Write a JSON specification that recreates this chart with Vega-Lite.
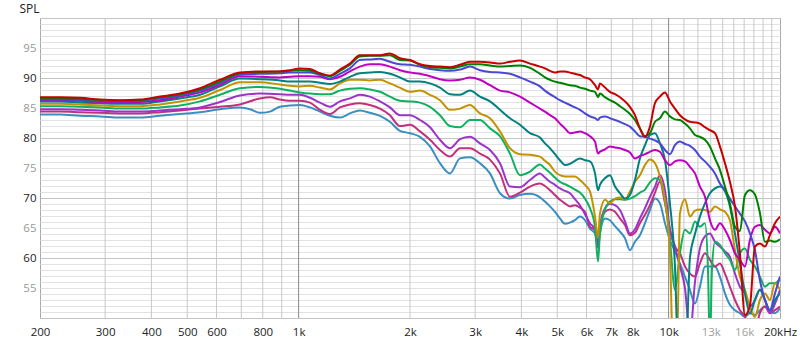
{
"$schema": "https://vega.github.io/schema/vega-lite/v6.json",
"width": 740, "height": 300,
"autosize": {"type": "none"},
"padding": {"left": 40, "top": 18, "right": 20, "bottom": 24},
"background": "white",
"config": {"view": {"stroke": "#a8a8a8", "strokeWidth": 1}, "font": "Open Sans"},
"datasets": {"gr": [{"f":300},{"f":400},{"f":500},{"f":600},{"f":700},{"f":800},{"f":900},{"f":1000},{"f":2000},{"f":3000},{"f":4000},{"f":5000},{"f":6000},{"f":7000},{"f":8000},{"f":9000},{"f":10000},{"f":11000},{"f":12000},{"f":13000},{"f":14000},{"f":15000},{"f":16000},{"f":17000},{"f":18000},{"f":19000}],
"d": [
{"s":"l","f":200,"v":83.9},{"s":"l","f":227,"v":83.9},{"s":"l","f":257,"v":83.7},{"s":"l","f":291,"v":83.6},{"s":"l","f":329,"v":83.4},{"s":"l","f":373,"v":83.4},{"s":"l","f":422,"v":83.7},{"s":"l","f":478,"v":84.0},{"s":"l","f":541,"v":84.3},{"s":"l","f":613,"v":84.8},{"s":"l","f":694,"v":85.1},{"s":"l","f":739,"v":84.8},{"s":"l","f":786,"v":84.2},{"s":"l","f":837,"v":84.4},{"s":"l","f":890,"v":85.2},{"s":"l","f":947,"v":85.4},{"s":"l","f":1008,"v":85.5},{"s":"l","f":1073,"v":85.1},{"s":"l","f":1142,"v":84.4},{"s":"l","f":1215,"v":83.7},{"s":"l","f":1293,"v":83.4},{"s":"l","f":1376,"v":84.1},{"s":"l","f":1464,"v":84.6},{"s":"l","f":1558,"v":84.2},{"s":"l","f":1659,"v":83.7},{"s":"l","f":1765,"v":82.7},{"s":"l","f":1878,"v":81.2},{"s":"l","f":2000,"v":80.8},{"s":"l","f":2128,"v":80.2},{"s":"l","f":2265,"v":78.6},{"s":"l","f":2410,"v":75.8},{"s":"l","f":2565,"v":74.1},{"s":"l","f":2730,"v":76.6},{"s":"l","f":2905,"v":76.8},{"s":"l","f":3091,"v":75.8},{"s":"l","f":3290,"v":74.1},{"s":"l","f":3501,"v":70.8},{"s":"l","f":3726,"v":69.9},{"s":"l","f":3965,"v":70.5},{"s":"l","f":4220,"v":70.7},{"s":"l","f":4490,"v":70.1},{"s":"l","f":4632,"v":69.4},{"s":"l","f":4779,"v":68.6},{"s":"l","f":4930,"v":67.7},{"s":"l","f":5085,"v":66.6},{"s":"l","f":5246,"v":65.7},{"s":"l","f":5412,"v":65.9},{"s":"l","f":5583,"v":66.3},{"s":"l","f":5759,"v":66.9},{"s":"l","f":5941,"v":66.3},{"s":"l","f":6129,"v":64.9},{"s":"l","f":6325,"v":64.1},{"s":"l","f":6444,"v":61.8},{"s":"l","f":6522,"v":64.1},{"s":"l","f":6731,"v":66.6},{"s":"l","f":6941,"v":66.3},{"s":"l","f":7163,"v":65.3},{"s":"l","f":7387,"v":64.4},{"s":"l","f":7622,"v":63.3},{"s":"l","f":7861,"v":61.3},{"s":"l","f":8111,"v":62.7},{"s":"l","f":8365,"v":63.8},{"s":"l","f":8632,"v":65.8},{"s":"l","f":8902,"v":68.0},{"s":"l","f":9186,"v":69.9},{"s":"l","f":9474,"v":69.1},{"s":"l","f":9776,"v":65.8},{"s":"l","f":10082,"v":63.0},{"s":"l","f":10403,"v":61.1},{"s":"l","f":10729,"v":59.1},{"s":"l","f":11071,"v":56.9},{"s":"l","f":11418,"v":54.7},{"s":"l","f":11782,"v":52.4},{"s":"l","f":12151,"v":55.2},{"s":"l","f":12538,"v":58.6},{"s":"l","f":12931,"v":58.6},{"s":"l","f":13343,"v":58.6},{"s":"l","f":13761,"v":56.9},{"s":"l","f":14199,"v":54.1},{"s":"l","f":14644,"v":52.2},{"s":"l","f":15111,"v":51.3},{"s":"l","f":15584,"v":50.8},{"s":"l","f":16082,"v":50.2},{"s":"l","f":16585,"v":50.8},{"s":"l","f":17114,"v":50.5},{"s":"l","f":17649,"v":51.3},{"s":"l","f":18213,"v":51.9},{"s":"l","f":18782,"v":51.1},{"s":"l","f":19385,"v":50.8},{"s":"l","f":20000,"v":51.6},
{"s":"k","f":200,"v":84.4},{"s":"k","f":227,"v":84.4},{"s":"k","f":257,"v":84.3},{"s":"k","f":291,"v":84.2},{"s":"k","f":329,"v":84.1},{"s":"k","f":373,"v":84.1},{"s":"k","f":422,"v":84.3},{"s":"k","f":478,"v":84.6},{"s":"k","f":541,"v":84.9},{"s":"k","f":613,"v":85.2},{"s":"k","f":694,"v":85.6},{"s":"k","f":786,"v":86.6},{"s":"k","f":837,"v":86.8},{"s":"k","f":890,"v":86.4},{"s":"k","f":947,"v":86.2},{"s":"k","f":1008,"v":86.2},{"s":"k","f":1073,"v":85.9},{"s":"k","f":1142,"v":84.7},{"s":"k","f":1215,"v":84.0},{"s":"k","f":1293,"v":85.1},{"s":"k","f":1376,"v":85.6},{"s":"k","f":1464,"v":85.8},{"s":"k","f":1558,"v":85.5},{"s":"k","f":1659,"v":84.9},{"s":"k","f":1765,"v":83.8},{"s":"k","f":1878,"v":82.0},{"s":"k","f":2000,"v":82.2},{"s":"k","f":2128,"v":81.1},{"s":"k","f":2265,"v":79.7},{"s":"k","f":2410,"v":78.0},{"s":"k","f":2565,"v":76.9},{"s":"k","f":2730,"v":78.3},{"s":"k","f":2905,"v":78.3},{"s":"k","f":3091,"v":77.4},{"s":"k","f":3290,"v":76.4},{"s":"k","f":3501,"v":74.1},{"s":"k","f":3726,"v":70.2},{"s":"k","f":3965,"v":70.9},{"s":"k","f":4220,"v":71.9},{"s":"k","f":4490,"v":72.4},{"s":"k","f":4632,"v":72.0},{"s":"k","f":4779,"v":71.3},{"s":"k","f":4930,"v":70.5},{"s":"k","f":5085,"v":69.7},{"s":"k","f":5246,"v":69.1},{"s":"k","f":5412,"v":68.6},{"s":"k","f":5583,"v":68.8},{"s":"k","f":5759,"v":68.4},{"s":"k","f":5941,"v":67.7},{"s":"k","f":6129,"v":65.2},{"s":"k","f":6325,"v":64.7},{"s":"k","f":6444,"v":62.2},{"s":"k","f":6522,"v":65.2},{"s":"k","f":6731,"v":67.7},{"s":"k","f":6941,"v":68.1},{"s":"k","f":7163,"v":67.7},{"s":"k","f":7387,"v":66.6},{"s":"k","f":7622,"v":65.5},{"s":"k","f":7861,"v":63.8},{"s":"k","f":8111,"v":64.2},{"s":"k","f":8365,"v":65.8},{"s":"k","f":8632,"v":67.2},{"s":"k","f":8902,"v":68.8},{"s":"k","f":9186,"v":70.9},{"s":"k","f":9474,"v":72.7},{"s":"k","f":9776,"v":69.1},{"s":"k","f":10082,"v":64.7},{"s":"k","f":10403,"v":61.9},{"s":"k","f":10729,"v":60.8},{"s":"k","f":11071,"v":58.6},{"s":"k","f":11418,"v":57.4},{"s":"k","f":11782,"v":56.9},{"s":"k","f":12151,"v":59.1},{"s":"k","f":12538,"v":60.8},{"s":"k","f":12931,"v":59.7},{"s":"k","f":13343,"v":58.6},{"s":"k","f":13761,"v":59.1},{"s":"k","f":14199,"v":57.4},{"s":"k","f":14644,"v":55.2},{"s":"k","f":15111,"v":53.0},{"s":"k","f":15584,"v":51.3},{"s":"k","f":16082,"v":50.2},{"s":"k","f":16585,"v":48.0},{"s":"k","f":17114,"v":48.0},{"s":"k","f":17649,"v":50.8},{"s":"k","f":18213,"v":51.9},{"s":"k","f":18782,"v":50.8},{"s":"k","f":19385,"v":51.3},{"s":"k","f":20000,"v":51.9},
{"s":"p","f":200,"v":84.8},{"s":"p","f":227,"v":84.8},{"s":"p","f":257,"v":84.7},{"s":"p","f":291,"v":84.6},{"s":"p","f":329,"v":84.4},{"s":"p","f":373,"v":84.4},{"s":"p","f":422,"v":84.6},{"s":"p","f":478,"v":84.8},{"s":"p","f":541,"v":85.1},{"s":"p","f":613,"v":86.0},{"s":"p","f":694,"v":87.1},{"s":"p","f":786,"v":87.4},{"s":"p","f":890,"v":87.3},{"s":"p","f":947,"v":87.2},{"s":"p","f":1008,"v":87.2},{"s":"p","f":1073,"v":86.7},{"s":"p","f":1142,"v":85.9},{"s":"p","f":1215,"v":85.2},{"s":"p","f":1293,"v":86.1},{"s":"p","f":1376,"v":86.6},{"s":"p","f":1464,"v":87.2},{"s":"p","f":1558,"v":86.9},{"s":"p","f":1659,"v":86.1},{"s":"p","f":1765,"v":85.1},{"s":"p","f":1878,"v":83.8},{"s":"p","f":2000,"v":83.8},{"s":"p","f":2128,"v":83.0},{"s":"p","f":2265,"v":81.8},{"s":"p","f":2410,"v":79.7},{"s":"p","f":2565,"v":78.3},{"s":"p","f":2730,"v":79.8},{"s":"p","f":2905,"v":80.2},{"s":"p","f":3091,"v":79.1},{"s":"p","f":3290,"v":78.0},{"s":"p","f":3501,"v":75.8},{"s":"p","f":3726,"v":71.9},{"s":"p","f":3965,"v":71.8},{"s":"p","f":4220,"v":73.0},{"s":"p","f":4490,"v":74.1},{"s":"p","f":4632,"v":73.4},{"s":"p","f":4779,"v":72.7},{"s":"p","f":4930,"v":72.2},{"s":"p","f":5085,"v":71.6},{"s":"p","f":5246,"v":71.2},{"s":"p","f":5412,"v":70.8},{"s":"p","f":5583,"v":69.8},{"s":"p","f":5759,"v":68.8},{"s":"p","f":5941,"v":67.3},{"s":"p","f":6129,"v":65.8},{"s":"p","f":6325,"v":64.7},{"s":"p","f":6444,"v":61.8},{"s":"p","f":6522,"v":65.2},{"s":"p","f":6731,"v":68.3},{"s":"p","f":6941,"v":69.0},{"s":"p","f":7163,"v":68.8},{"s":"p","f":7387,"v":68.0},{"s":"p","f":7622,"v":66.1},{"s":"p","f":7861,"v":64.1},{"s":"p","f":8111,"v":64.8},{"s":"p","f":8365,"v":66.6},{"s":"p","f":8632,"v":68.3},{"s":"p","f":8902,"v":70.2},{"s":"p","f":9186,"v":71.9},{"s":"p","f":9474,"v":73.8},{"s":"p","f":9776,"v":71.3},{"s":"p","f":10082,"v":64.7},{"s":"p","f":10403,"v":61.9},{"s":"p","f":10729,"v":58.6},{"s":"p","f":11071,"v":55.0},{"s":"p","f":11418,"v":47.0},{"s":"p","f":11782,"v":56.0},{"s":"p","f":12151,"v":61.6},{"s":"p","f":12538,"v":63.6},{"s":"p","f":12931,"v":64.1},{"s":"p","f":13343,"v":62.7},{"s":"p","f":13761,"v":61.9},{"s":"p","f":14199,"v":61.1},{"s":"p","f":14644,"v":60.2},{"s":"p","f":15111,"v":57.4},{"s":"p","f":15584,"v":55.2},{"s":"p","f":16082,"v":54.1},{"s":"p","f":16585,"v":51.9},{"s":"p","f":17114,"v":53.0},{"s":"p","f":17649,"v":54.7},{"s":"p","f":18213,"v":53.0},{"s":"p","f":18782,"v":50.8},{"s":"p","f":19385,"v":52.4},{"s":"p","f":20000,"v":54.7},
{"s":"e","f":200,"v":85.3},{"s":"e","f":227,"v":85.3},{"s":"e","f":257,"v":85.2},{"s":"e","f":291,"v":85.1},{"s":"e","f":329,"v":84.9},{"s":"e","f":373,"v":84.9},{"s":"e","f":422,"v":85.1},{"s":"e","f":478,"v":85.4},{"s":"e","f":541,"v":86.1},{"s":"e","f":613,"v":87.2},{"s":"e","f":694,"v":88.3},{"s":"e","f":786,"v":88.5},{"s":"e","f":890,"v":88.2},{"s":"e","f":947,"v":87.9},{"s":"e","f":1008,"v":87.6},{"s":"e","f":1073,"v":87.4},{"s":"e","f":1142,"v":87.3},{"s":"e","f":1215,"v":87.3},{"s":"e","f":1293,"v":87.9},{"s":"e","f":1376,"v":88.2},{"s":"e","f":1464,"v":88.3},{"s":"e","f":1558,"v":88.1},{"s":"e","f":1659,"v":87.7},{"s":"e","f":1765,"v":86.9},{"s":"e","f":1878,"v":86.2},{"s":"e","f":2000,"v":86.1},{"s":"e","f":2128,"v":85.9},{"s":"e","f":2265,"v":85.2},{"s":"e","f":2410,"v":83.8},{"s":"e","f":2565,"v":82.0},{"s":"e","f":2730,"v":81.8},{"s":"e","f":2905,"v":83.0},{"s":"e","f":3091,"v":83.0},{"s":"e","f":3290,"v":81.6},{"s":"e","f":3501,"v":80.3},{"s":"e","f":3726,"v":77.4},{"s":"e","f":3965,"v":73.8},{"s":"e","f":4220,"v":74.4},{"s":"e","f":4490,"v":75.6},{"s":"e","f":4632,"v":74.9},{"s":"e","f":4779,"v":74.2},{"s":"e","f":4930,"v":73.4},{"s":"e","f":5085,"v":72.7},{"s":"e","f":5246,"v":72.3},{"s":"e","f":5412,"v":71.9},{"s":"e","f":5583,"v":71.4},{"s":"e","f":5759,"v":70.9},{"s":"e","f":5941,"v":69.9},{"s":"e","f":6129,"v":68.3},{"s":"e","f":6325,"v":65.2},{"s":"e","f":6444,"v":59.4},{"s":"e","f":6522,"v":64.1},{"s":"e","f":6731,"v":68.1},{"s":"e","f":6941,"v":69.4},{"s":"e","f":7163,"v":69.8},{"s":"e","f":7387,"v":69.8},{"s":"e","f":7622,"v":69.7},{"s":"e","f":7861,"v":69.9},{"s":"e","f":8111,"v":70.3},{"s":"e","f":8365,"v":70.9},{"s":"e","f":8632,"v":71.4},{"s":"e","f":8902,"v":72.6},{"s":"e","f":9186,"v":73.3},{"s":"e","f":9474,"v":73.0},{"s":"e","f":9776,"v":69.7},{"s":"e","f":10082,"v":63.0},{"s":"e","f":10403,"v":54.7},{"s":"e","f":10729,"v":60.8},{"s":"e","f":11071,"v":64.7},{"s":"e","f":11418,"v":64.1},{"s":"e","f":11782,"v":66.1},{"s":"e","f":12151,"v":65.2},{"s":"e","f":12538,"v":65.8},{"s":"e","f":12776,"v":58.0},{"s":"e","f":12931,"v":45.0},{"s":"e","f":13094,"v":58.0},{"s":"e","f":13343,"v":62.7},{"s":"e","f":13761,"v":62.2},{"s":"e","f":14199,"v":60.8},{"s":"e","f":14644,"v":59.7},{"s":"e","f":15111,"v":58.0},{"s":"e","f":15584,"v":60.8},{"s":"e","f":16082,"v":61.6},{"s":"e","f":16585,"v":59.7},{"s":"e","f":17114,"v":58.6},{"s":"e","f":17649,"v":56.9},{"s":"e","f":18213,"v":55.2},{"s":"e","f":18782,"v":55.8},{"s":"e","f":19385,"v":55.8},{"s":"e","f":20000,"v":56.6},
{"s":"o","f":200,"v":85.7},{"s":"o","f":227,"v":85.7},{"s":"o","f":257,"v":85.6},{"s":"o","f":291,"v":85.4},{"s":"o","f":329,"v":85.3},{"s":"o","f":373,"v":85.3},{"s":"o","f":422,"v":85.6},{"s":"o","f":478,"v":86.1},{"s":"o","f":541,"v":86.7},{"s":"o","f":613,"v":88.0},{"s":"o","f":694,"v":89.3},{"s":"o","f":786,"v":89.3},{"s":"o","f":890,"v":88.9},{"s":"o","f":947,"v":88.7},{"s":"o","f":1008,"v":88.6},{"s":"o","f":1073,"v":88.7},{"s":"o","f":1142,"v":88.4},{"s":"o","f":1215,"v":88.1},{"s":"o","f":1293,"v":89.1},{"s":"o","f":1376,"v":89.7},{"s":"o","f":1464,"v":89.7},{"s":"o","f":1558,"v":89.6},{"s":"o","f":1659,"v":89.7},{"s":"o","f":1765,"v":89.1},{"s":"o","f":1878,"v":88.4},{"s":"o","f":2000,"v":87.7},{"s":"o","f":2128,"v":87.9},{"s":"o","f":2265,"v":87.2},{"s":"o","f":2410,"v":86.3},{"s":"o","f":2565,"v":84.7},{"s":"o","f":2730,"v":84.9},{"s":"o","f":2905,"v":85.5},{"s":"o","f":3091,"v":84.1},{"s":"o","f":3290,"v":83.3},{"s":"o","f":3501,"v":81.1},{"s":"o","f":3726,"v":78.3},{"s":"o","f":3965,"v":77.3},{"s":"o","f":4220,"v":77.2},{"s":"o","f":4490,"v":76.9},{"s":"o","f":4632,"v":76.2},{"s":"o","f":4779,"v":75.5},{"s":"o","f":4930,"v":74.4},{"s":"o","f":5085,"v":73.8},{"s":"o","f":5246,"v":73.6},{"s":"o","f":5412,"v":73.6},{"s":"o","f":5583,"v":73.6},{"s":"o","f":5759,"v":73.0},{"s":"o","f":5941,"v":72.2},{"s":"o","f":6129,"v":71.1},{"s":"o","f":6325,"v":66.9},{"s":"o","f":6444,"v":63.4},{"s":"o","f":6522,"v":67.4},{"s":"o","f":6731,"v":69.7},{"s":"o","f":6941,"v":69.1},{"s":"o","f":7163,"v":69.9},{"s":"o","f":7387,"v":70.1},{"s":"o","f":7622,"v":69.7},{"s":"o","f":7861,"v":71.1},{"s":"o","f":8111,"v":72.7},{"s":"o","f":8365,"v":73.8},{"s":"o","f":8632,"v":75.5},{"s":"o","f":8902,"v":76.4},{"s":"o","f":9186,"v":75.8},{"s":"o","f":9474,"v":73.6},{"s":"o","f":9776,"v":69.7},{"s":"o","f":10082,"v":60.8},{"s":"o","f":10276,"v":45.0},{"s":"o","f":10534,"v":45.0},{"s":"o","f":10729,"v":67.4},{"s":"o","f":11071,"v":69.8},{"s":"o","f":11418,"v":66.9},{"s":"o","f":11782,"v":67.9},{"s":"o","f":12151,"v":68.1},{"s":"o","f":12538,"v":68.0},{"s":"o","f":12931,"v":67.7},{"s":"o","f":13343,"v":68.6},{"s":"o","f":13761,"v":68.1},{"s":"o","f":14199,"v":67.7},{"s":"o","f":14644,"v":66.3},{"s":"o","f":15111,"v":61.3},{"s":"o","f":15584,"v":56.9},{"s":"o","f":16082,"v":54.7},{"s":"o","f":16585,"v":51.9},{"s":"o","f":17114,"v":50.2},{"s":"o","f":17649,"v":53.0},{"s":"o","f":18213,"v":54.1},{"s":"o","f":18782,"v":53.0},{"s":"o","f":19385,"v":55.8},{"s":"o","f":20000,"v":54.7},
{"s":"t","f":200,"v":86.1},{"s":"t","f":227,"v":86.1},{"s":"t","f":257,"v":85.9},{"s":"t","f":291,"v":85.8},{"s":"t","f":329,"v":85.7},{"s":"t","f":373,"v":85.7},{"s":"t","f":422,"v":86.1},{"s":"t","f":478,"v":86.6},{"s":"t","f":541,"v":87.2},{"s":"t","f":613,"v":88.6},{"s":"t","f":694,"v":89.9},{"s":"t","f":786,"v":89.8},{"s":"t","f":890,"v":89.6},{"s":"t","f":947,"v":89.4},{"s":"t","f":1008,"v":89.4},{"s":"t","f":1073,"v":89.4},{"s":"t","f":1142,"v":89.2},{"s":"t","f":1215,"v":89.0},{"s":"t","f":1293,"v":89.4},{"s":"t","f":1376,"v":90.2},{"s":"t","f":1464,"v":90.8},{"s":"t","f":1558,"v":90.9},{"s":"t","f":1659,"v":91.0},{"s":"t","f":1765,"v":90.7},{"s":"t","f":1878,"v":90.1},{"s":"t","f":2000,"v":89.4},{"s":"t","f":2128,"v":89.4},{"s":"t","f":2265,"v":89.1},{"s":"t","f":2410,"v":88.4},{"s":"t","f":2565,"v":87.3},{"s":"t","f":2730,"v":87.2},{"s":"t","f":2905,"v":87.9},{"s":"t","f":3091,"v":86.9},{"s":"t","f":3290,"v":86.1},{"s":"t","f":3501,"v":84.7},{"s":"t","f":3726,"v":83.3},{"s":"t","f":3965,"v":82.2},{"s":"t","f":4220,"v":80.8},{"s":"t","f":4490,"v":80.1},{"s":"t","f":4632,"v":79.1},{"s":"t","f":4779,"v":78.3},{"s":"t","f":4930,"v":77.3},{"s":"t","f":5085,"v":76.3},{"s":"t","f":5246,"v":75.5},{"s":"t","f":5412,"v":75.7},{"s":"t","f":5583,"v":76.2},{"s":"t","f":5759,"v":76.6},{"s":"t","f":5941,"v":76.3},{"s":"t","f":6129,"v":76.1},{"s":"t","f":6325,"v":74.1},{"s":"t","f":6444,"v":71.3},{"s":"t","f":6522,"v":72.2},{"s":"t","f":6731,"v":73.3},{"s":"t","f":6941,"v":73.8},{"s":"t","f":7163,"v":71.9},{"s":"t","f":7387,"v":70.8},{"s":"t","f":7622,"v":69.9},{"s":"t","f":7861,"v":70.5},{"s":"t","f":8111,"v":73.0},{"s":"t","f":8365,"v":76.6},{"s":"t","f":8632,"v":78.8},{"s":"t","f":8902,"v":80.5},{"s":"t","f":9186,"v":80.8},{"s":"t","f":9474,"v":79.1},{"s":"t","f":9776,"v":76.3},{"s":"t","f":10082,"v":69.1},{"s":"t","f":10403,"v":58.6},{"s":"t","f":10600,"v":45.0},{"s":"t","f":11140,"v":45.0},{"s":"t","f":11418,"v":60.0},{"s":"t","f":11782,"v":64.0},{"s":"t","f":12151,"v":66.9},{"s":"t","f":12538,"v":69.1},{"s":"t","f":12931,"v":70.8},{"s":"t","f":13343,"v":71.6},{"s":"t","f":13761,"v":71.9},{"s":"t","f":14199,"v":71.1},{"s":"t","f":14644,"v":68.6},{"s":"t","f":15111,"v":64.1},{"s":"t","f":15584,"v":59.1},{"s":"t","f":16082,"v":54.1},{"s":"t","f":16585,"v":50.8},{"s":"t","f":17114,"v":53.0},{"s":"t","f":17649,"v":54.7},{"s":"t","f":18213,"v":53.0},{"s":"t","f":18782,"v":51.3},{"s":"t","f":19385,"v":53.0},{"s":"t","f":20000,"v":54.1},
{"s":"m","f":200,"v":86.3},{"s":"m","f":227,"v":86.3},{"s":"m","f":257,"v":86.2},{"s":"m","f":291,"v":86.0},{"s":"m","f":329,"v":85.9},{"s":"m","f":373,"v":86.0},{"s":"m","f":422,"v":86.3},{"s":"m","f":478,"v":86.9},{"s":"m","f":541,"v":87.6},{"s":"m","f":613,"v":88.9},{"s":"m","f":694,"v":90.3},{"s":"m","f":786,"v":90.2},{"s":"m","f":890,"v":90.1},{"s":"m","f":947,"v":90.2},{"s":"m","f":1008,"v":90.3},{"s":"m","f":1073,"v":90.3},{"s":"m","f":1142,"v":90.2},{"s":"m","f":1215,"v":89.8},{"s":"m","f":1293,"v":90.2},{"s":"m","f":1376,"v":91.1},{"s":"m","f":1464,"v":91.9},{"s":"m","f":1558,"v":92.3},{"s":"m","f":1659,"v":92.3},{"s":"m","f":1765,"v":91.9},{"s":"m","f":1878,"v":91.3},{"s":"m","f":2000,"v":90.9},{"s":"m","f":2128,"v":90.7},{"s":"m","f":2265,"v":90.3},{"s":"m","f":2410,"v":89.8},{"s":"m","f":2565,"v":89.6},{"s":"m","f":2730,"v":89.7},{"s":"m","f":2905,"v":90.1},{"s":"m","f":3091,"v":89.7},{"s":"m","f":3290,"v":88.8},{"s":"m","f":3501,"v":87.9},{"s":"m","f":3726,"v":87.6},{"s":"m","f":3965,"v":86.9},{"s":"m","f":4220,"v":85.9},{"s":"m","f":4490,"v":84.9},{"s":"m","f":4632,"v":84.4},{"s":"m","f":4779,"v":83.8},{"s":"m","f":4930,"v":83.3},{"s":"m","f":5085,"v":82.4},{"s":"m","f":5246,"v":81.6},{"s":"m","f":5412,"v":80.8},{"s":"m","f":5583,"v":80.9},{"s":"m","f":5759,"v":81.1},{"s":"m","f":5941,"v":80.8},{"s":"m","f":6129,"v":80.3},{"s":"m","f":6325,"v":79.4},{"s":"m","f":6444,"v":77.4},{"s":"m","f":6522,"v":77.7},{"s":"m","f":6731,"v":78.1},{"s":"m","f":6941,"v":78.6},{"s":"m","f":7163,"v":78.4},{"s":"m","f":7387,"v":78.3},{"s":"m","f":7622,"v":78.0},{"s":"m","f":7861,"v":77.6},{"s":"m","f":8111,"v":76.6},{"s":"m","f":8365,"v":77.0},{"s":"m","f":8632,"v":77.3},{"s":"m","f":8902,"v":77.7},{"s":"m","f":9186,"v":78.0},{"s":"m","f":9474,"v":77.7},{"s":"m","f":9776,"v":76.3},{"s":"m","f":10082,"v":75.5},{"s":"m","f":10403,"v":76.1},{"s":"m","f":10729,"v":76.3},{"s":"m","f":11071,"v":76.1},{"s":"m","f":11418,"v":75.2},{"s":"m","f":11782,"v":74.1},{"s":"m","f":12151,"v":71.9},{"s":"m","f":12538,"v":70.2},{"s":"m","f":12931,"v":66.3},{"s":"m","f":13343,"v":64.7},{"s":"m","f":13761,"v":65.8},{"s":"m","f":14199,"v":64.7},{"s":"m","f":14644,"v":63.0},{"s":"m","f":15111,"v":60.8},{"s":"m","f":15584,"v":59.7},{"s":"m","f":16082,"v":58.6},{"s":"m","f":16585,"v":63.0},{"s":"m","f":17114,"v":65.2},{"s":"m","f":17649,"v":65.5},{"s":"m","f":18213,"v":64.7},{"s":"m","f":18782,"v":64.1},{"s":"m","f":19385,"v":65.2},{"s":"m","f":20000,"v":64.1},
{"s":"b","f":200,"v":86.4},{"s":"b","f":227,"v":86.4},{"s":"b","f":257,"v":86.3},{"s":"b","f":291,"v":86.2},{"s":"b","f":329,"v":86.1},{"s":"b","f":373,"v":86.2},{"s":"b","f":422,"v":86.6},{"s":"b","f":478,"v":87.1},{"s":"b","f":541,"v":87.9},{"s":"b","f":613,"v":89.2},{"s":"b","f":694,"v":90.6},{"s":"b","f":786,"v":90.7},{"s":"b","f":890,"v":90.8},{"s":"b","f":947,"v":90.9},{"s":"b","f":1008,"v":90.9},{"s":"b","f":1073,"v":90.9},{"s":"b","f":1142,"v":90.5},{"s":"b","f":1215,"v":89.9},{"s":"b","f":1293,"v":90.7},{"s":"b","f":1376,"v":91.6},{"s":"b","f":1464,"v":93.0},{"s":"b","f":1558,"v":93.1},{"s":"b","f":1659,"v":93.2},{"s":"b","f":1765,"v":92.7},{"s":"b","f":1878,"v":92.3},{"s":"b","f":2000,"v":92.2},{"s":"b","f":2128,"v":91.9},{"s":"b","f":2265,"v":91.5},{"s":"b","f":2410,"v":91.3},{"s":"b","f":2565,"v":91.2},{"s":"b","f":2730,"v":91.4},{"s":"b","f":2905,"v":91.9},{"s":"b","f":3091,"v":91.3},{"s":"b","f":3290,"v":91.0},{"s":"b","f":3501,"v":90.9},{"s":"b","f":3726,"v":90.7},{"s":"b","f":3965,"v":90.1},{"s":"b","f":4220,"v":89.4},{"s":"b","f":4490,"v":88.6},{"s":"b","f":4632,"v":87.9},{"s":"b","f":4779,"v":87.3},{"s":"b","f":4930,"v":86.8},{"s":"b","f":5085,"v":86.3},{"s":"b","f":5246,"v":85.9},{"s":"b","f":5412,"v":85.5},{"s":"b","f":5583,"v":85.1},{"s":"b","f":5759,"v":84.7},{"s":"b","f":5941,"v":84.1},{"s":"b","f":6129,"v":83.6},{"s":"b","f":6325,"v":83.3},{"s":"b","f":6444,"v":83.0},{"s":"b","f":6522,"v":83.4},{"s":"b","f":6731,"v":83.6},{"s":"b","f":6941,"v":83.3},{"s":"b","f":7163,"v":83.0},{"s":"b","f":7387,"v":82.7},{"s":"b","f":7622,"v":82.3},{"s":"b","f":7861,"v":81.9},{"s":"b","f":8111,"v":81.1},{"s":"b","f":8365,"v":80.3},{"s":"b","f":8632,"v":80.2},{"s":"b","f":8902,"v":79.9},{"s":"b","f":9186,"v":79.6},{"s":"b","f":9474,"v":79.1},{"s":"b","f":9776,"v":78.0},{"s":"b","f":10082,"v":77.3},{"s":"b","f":10403,"v":78.8},{"s":"b","f":10729,"v":79.4},{"s":"b","f":11071,"v":79.0},{"s":"b","f":11418,"v":78.7},{"s":"b","f":11782,"v":78.0},{"s":"b","f":12151,"v":76.9},{"s":"b","f":12538,"v":76.1},{"s":"b","f":12931,"v":75.2},{"s":"b","f":13343,"v":74.1},{"s":"b","f":13761,"v":72.4},{"s":"b","f":14199,"v":71.3},{"s":"b","f":14644,"v":69.9},{"s":"b","f":15111,"v":68.6},{"s":"b","f":15584,"v":67.4},{"s":"b","f":16082,"v":66.1},{"s":"b","f":16585,"v":64.1},{"s":"b","f":17114,"v":61.3},{"s":"b","f":17649,"v":56.3},{"s":"b","f":18213,"v":53.0},{"s":"b","f":18782,"v":51.3},{"s":"b","f":19385,"v":54.1},{"s":"b","f":20000,"v":56.9},
{"s":"g","f":200,"v":86.6},{"s":"g","f":227,"v":86.6},{"s":"g","f":257,"v":86.5},{"s":"g","f":291,"v":86.3},{"s":"g","f":329,"v":86.2},{"s":"g","f":373,"v":86.3},{"s":"g","f":422,"v":86.8},{"s":"g","f":478,"v":87.3},{"s":"g","f":541,"v":88.1},{"s":"g","f":613,"v":89.4},{"s":"g","f":694,"v":90.8},{"s":"g","f":786,"v":91.0},{"s":"g","f":890,"v":91.1},{"s":"g","f":947,"v":91.2},{"s":"g","f":1008,"v":91.3},{"s":"g","f":1073,"v":91.2},{"s":"g","f":1142,"v":90.7},{"s":"g","f":1215,"v":90.3},{"s":"g","f":1293,"v":91.2},{"s":"g","f":1376,"v":92.2},{"s":"g","f":1464,"v":93.6},{"s":"g","f":1558,"v":93.7},{"s":"g","f":1659,"v":93.7},{"s":"g","f":1765,"v":93.8},{"s":"g","f":1878,"v":93.0},{"s":"g","f":2000,"v":92.9},{"s":"g","f":2128,"v":92.2},{"s":"g","f":2265,"v":91.8},{"s":"g","f":2410,"v":91.7},{"s":"g","f":2565,"v":91.6},{"s":"g","f":2730,"v":91.9},{"s":"g","f":2905,"v":92.3},{"s":"g","f":3091,"v":92.3},{"s":"g","f":3290,"v":92.1},{"s":"g","f":3501,"v":91.9},{"s":"g","f":3726,"v":92.0},{"s":"g","f":3965,"v":92.1},{"s":"g","f":4220,"v":91.7},{"s":"g","f":4490,"v":90.7},{"s":"g","f":4632,"v":90.1},{"s":"g","f":4779,"v":89.7},{"s":"g","f":4930,"v":89.4},{"s":"g","f":5085,"v":89.2},{"s":"g","f":5246,"v":89.0},{"s":"g","f":5412,"v":88.8},{"s":"g","f":5583,"v":88.7},{"s":"g","f":5759,"v":88.4},{"s":"g","f":5941,"v":88.2},{"s":"g","f":6129,"v":87.9},{"s":"g","f":6325,"v":87.7},{"s":"g","f":6444,"v":86.8},{"s":"g","f":6522,"v":87.4},{"s":"g","f":6731,"v":86.8},{"s":"g","f":6941,"v":86.3},{"s":"g","f":7163,"v":85.9},{"s":"g","f":7387,"v":85.3},{"s":"g","f":7622,"v":84.7},{"s":"g","f":7861,"v":84.0},{"s":"g","f":8111,"v":83.0},{"s":"g","f":8365,"v":81.6},{"s":"g","f":8632,"v":80.3},{"s":"g","f":8902,"v":80.8},{"s":"g","f":9186,"v":82.7},{"s":"g","f":9474,"v":83.3},{"s":"g","f":9776,"v":84.4},{"s":"g","f":10082,"v":83.6},{"s":"g","f":10403,"v":83.1},{"s":"g","f":10729,"v":83.0},{"s":"g","f":11071,"v":82.4},{"s":"g","f":11418,"v":81.6},{"s":"g","f":11782,"v":80.5},{"s":"g","f":12151,"v":80.2},{"s":"g","f":12538,"v":79.7},{"s":"g","f":12931,"v":78.6},{"s":"g","f":13343,"v":76.6},{"s":"g","f":13761,"v":74.7},{"s":"g","f":14199,"v":71.9},{"s":"g","f":14644,"v":69.1},{"s":"g","f":15111,"v":65.2},{"s":"g","f":15584,"v":64.5},{"s":"g","f":16082,"v":70.5},{"s":"g","f":16585,"v":71.3},{"s":"g","f":17114,"v":70.6},{"s":"g","f":17649,"v":67.5},{"s":"g","f":18213,"v":62.7},{"s":"g","f":18782,"v":62.9},{"s":"g","f":19385,"v":62.7},{"s":"g","f":20000,"v":63.1},
{"s":"r","f":200,"v":86.8},{"s":"r","f":227,"v":86.8},{"s":"r","f":257,"v":86.7},{"s":"r","f":291,"v":86.4},{"s":"r","f":329,"v":86.3},{"s":"r","f":373,"v":86.4},{"s":"r","f":422,"v":86.9},{"s":"r","f":478,"v":87.4},{"s":"r","f":541,"v":88.3},{"s":"r","f":613,"v":89.7},{"s":"r","f":694,"v":90.9},{"s":"r","f":786,"v":91.1},{"s":"r","f":890,"v":91.1},{"s":"r","f":947,"v":91.3},{"s":"r","f":1008,"v":91.6},{"s":"r","f":1073,"v":91.5},{"s":"r","f":1142,"v":90.8},{"s":"r","f":1215,"v":90.4},{"s":"r","f":1293,"v":91.4},{"s":"r","f":1376,"v":92.4},{"s":"r","f":1464,"v":93.8},{"s":"r","f":1558,"v":93.8},{"s":"r","f":1659,"v":93.8},{"s":"r","f":1765,"v":94.1},{"s":"r","f":1878,"v":93.3},{"s":"r","f":2000,"v":93.0},{"s":"r","f":2128,"v":92.3},{"s":"r","f":2265,"v":92.0},{"s":"r","f":2410,"v":91.9},{"s":"r","f":2565,"v":91.8},{"s":"r","f":2730,"v":92.2},{"s":"r","f":2905,"v":92.7},{"s":"r","f":3091,"v":92.7},{"s":"r","f":3290,"v":92.6},{"s":"r","f":3501,"v":92.4},{"s":"r","f":3726,"v":92.7},{"s":"r","f":3965,"v":92.9},{"s":"r","f":4220,"v":92.4},{"s":"r","f":4490,"v":91.9},{"s":"r","f":4632,"v":91.6},{"s":"r","f":4779,"v":91.2},{"s":"r","f":4930,"v":90.9},{"s":"r","f":5085,"v":91.1},{"s":"r","f":5246,"v":91.1},{"s":"r","f":5412,"v":90.9},{"s":"r","f":5583,"v":90.7},{"s":"r","f":5759,"v":90.5},{"s":"r","f":5941,"v":90.1},{"s":"r","f":6129,"v":89.8},{"s":"r","f":6325,"v":88.8},{"s":"r","f":6444,"v":88.1},{"s":"r","f":6522,"v":89.1},{"s":"r","f":6731,"v":88.4},{"s":"r","f":6941,"v":87.7},{"s":"r","f":7163,"v":87.3},{"s":"r","f":7387,"v":86.8},{"s":"r","f":7622,"v":86.1},{"s":"r","f":7861,"v":85.2},{"s":"r","f":8111,"v":83.8},{"s":"r","f":8365,"v":81.6},{"s":"r","f":8632,"v":80.2},{"s":"r","f":8902,"v":81.9},{"s":"r","f":9186,"v":85.8},{"s":"r","f":9474,"v":86.9},{"s":"r","f":9776,"v":87.6},{"s":"r","f":10082,"v":86.1},{"s":"r","f":10403,"v":84.9},{"s":"r","f":10729,"v":83.8},{"s":"r","f":11071,"v":83.1},{"s":"r","f":11418,"v":82.7},{"s":"r","f":11782,"v":82.6},{"s":"r","f":12151,"v":82.4},{"s":"r","f":12538,"v":81.8},{"s":"r","f":12931,"v":81.3},{"s":"r","f":13343,"v":80.8},{"s":"r","f":13761,"v":78.6},{"s":"r","f":14199,"v":75.8},{"s":"r","f":14644,"v":72.7},{"s":"r","f":15111,"v":68.6},{"s":"r","f":15584,"v":60.8},{"s":"r","f":16082,"v":50.5},{"s":"r","f":16585,"v":52.0},{"s":"r","f":17114,"v":61.9},{"s":"r","f":17649,"v":62.4},{"s":"r","f":18213,"v":61.9},{"s":"r","f":18782,"v":63.8},{"s":"r","f":19385,"v":65.8},{"s":"r","f":20000,"v":66.9}
]},
"layer": [
{"data": {"name": "gr"},
 "mark": {"type": "rule", "strokeWidth": 1},
 "encoding": {
  "x": {"field": "f", "type": "quantitative",
   "scale": {"type": "log", "domain": [200, 20000], "nice": false},
   "axis": {"title": null,
    "values": [200,300,400,500,600,800,1000,2000,3000,4000,5000,6000,7000,8000,10000,13000,16000,20000],
    "labelExpr": "datum.value == 20000 ? '20kHz' : (datum.value >= 1000 ? (datum.value/1000) + 'k' : datum.value + '')",
    "grid": false, "ticks": false, "domain": false, "labelPadding": 8, "labelFontSize": 11.5, "labelFlush": false, "labelOverlap": false,
    "labelColor": {"condition": {"test": "datum.value == 13000 || datum.value == 16000", "value": "#a0a0a0"}, "value": "#222222"}}},
  "color": {"condition": {"test": "datum.f == 1000 || datum.f == 10000", "value": "#8a8a8a"}, "value": "#c8c8c8"}}},
{"data": {"name": "d"},
 "mark": {"type": "line", "strokeWidth": 2, "interpolate": "monotone", "clip": true},
 "encoding": {
  "x": {"field": "f", "type": "quantitative"},
  "y": {"field": "v", "type": "quantitative",
   "scale": {"domain": [50, 100], "nice": false, "zero": false},
   "axis": {"title": "SPL", "titleAngle": 0, "titleX": -21, "titleY": -6, "titleAlign": "left", "titleBaseline": "alphabetic", "titleFontWeight": "normal", "titleFontSize": 12, "titleColor": "#222222",
    "values": [50,51,52,53,54,55,56,57,58,59,60,61,62,63,64,65,66,67,68,69,70,71,72,73,74,75,76,77,78,79,80,81,82,83,84,85,86,87,88,89,90,91,92,93,94,95,96,97,98,99,100],
    "labelExpr": "(datum.value % 5 == 0 && datum.value > 50 && datum.value < 100) ? datum.value + '' : ''",
    "grid": true,
    "gridColor": {"condition": {"test": "datum.value % 10 == 0", "value": "#c4c4c4"}, "value": "#e2e2e2"},
    "ticks": false, "domain": false, "labelPadding": 4, "labelFontSize": 11.5, "labelOverlap": false,
    "labelColor": {"condition": {"test": "datum.value % 10 == 0", "value": "#222222"}, "value": "#999999"}}},
  "color": {"field": "s", "type": "nominal", "legend": null,
   "scale": {"domain": ["l","k","p","e","o","t","m","b","g","r"],
    "range": ["#3a8fc0","#c0307f","#9a35c8","#10b060","#c39200","#00807f","#c000c0","#4a48d4","#008000","#c80000"]}}}}
]
}
